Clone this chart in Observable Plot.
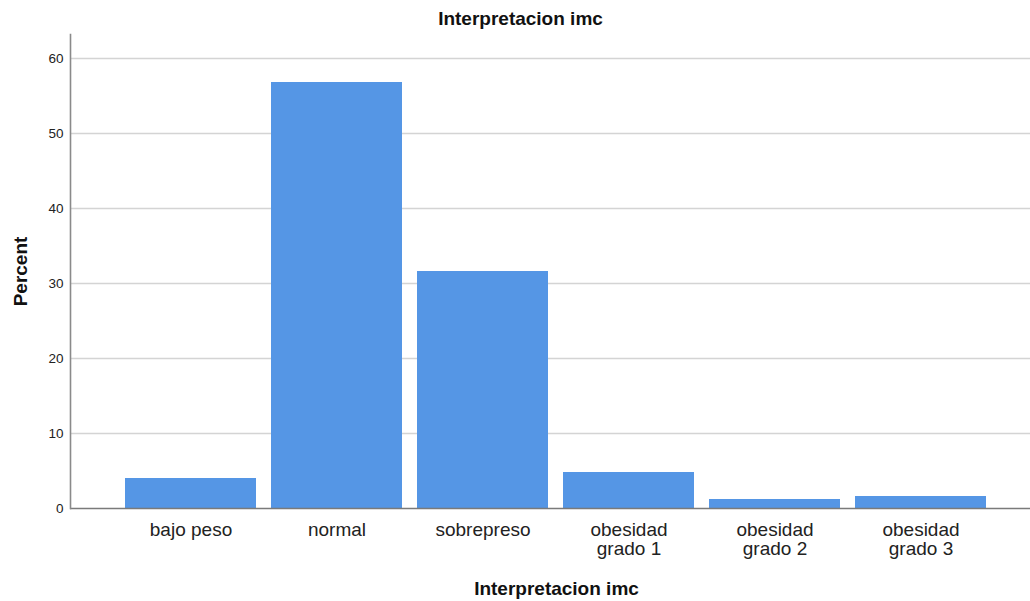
<!DOCTYPE html>
<html>
<head>
<meta charset="utf-8">
<script src="https://cdn.jsdelivr.net/npm/d3@7"></script>
<script src="https://cdn.jsdelivr.net/npm/@observablehq/plot@0.6"></script>
<style>
  html, body { margin: 0; padding: 0; background: #fff; }
  #chart { width: 1030px; height: 601px; }
</style>
</head>
<body>
<div id="chart"></div>
<script>
const categories = ["bajo peso", "normal", "sobrepreso", "obesidad grado 1", "obesidad grado 2", "obesidad grado 3"];
const tickLabels = ["bajo peso", "normal", "sobrepreso", "obesidad\ngrado 1", "obesidad\ngrado 2", "obesidad\ngrado 3"];
const percents = [4.0, 56.8, 31.6, 4.8, 1.2, 1.6];
const yTicks = [0, 10, 20, 30, 40, 50, 60];
const gridTicks = [10, 20, 30, 40, 50, 60];
const title = "Interpretacion imc";
const xTitle = "Interpretacion imc";
const yTitle = "Percent";

const data = categories.map((c, i) => ({category: c, percent: percents[i]}));
const labelOf = new Map(categories.map((c, i) => [c, tickLabels[i]]));

const font = "'Liberation Sans', Arial, sans-serif";

const chart = Plot.plot({
  width: 1030,
  height: 601,
  marginTop: 34,
  marginBottom: 93,
  marginLeft: 70,
  marginRight: 0,
  style: {fontFamily: font, background: "#fff"},
  x: {domain: categories, padding: 0.103, insetLeft: 37, insetRight: 27, label: null},
  y: {domain: [0, 63.2], label: null},
  marks: [
    Plot.ruleY(gridTicks, {stroke: "#d4d4d4", strokeWidth: 1.6}),
    Plot.barY(data, {x: "category", y: "percent", fill: "#5596e5"}),
    Plot.ruleY([0], {stroke: "#7a7a7a", strokeWidth: 1.6}),
    Plot.frame({anchor: "left", stroke: "#8a8a8a", strokeWidth: 1.6}),
    Plot.axisY({ticks: yTicks, tickSize: 0, tickPadding: 7, fontSize: 13.5, fill: "#222", label: null}),
    Plot.axisX({tickSize: 0, tickPadding: 14, fontSize: 19, lineHeight: 1.0, fill: "#222", tickFormat: d => labelOf.get(d), label: null}),
    Plot.text([title], {frameAnchor: "top", lineAnchor: "middle", dx: -30, dy: -16, fontSize: 19, fontWeight: "bold", fill: "#111"}),
    Plot.text([xTitle], {frameAnchor: "bottom", lineAnchor: "middle", dx: 6, dy: 80, fontSize: 19, fontWeight: "bold", fill: "#111"}),
    Plot.text([yTitle], {frameAnchor: "left", textAnchor: "middle", lineAnchor: "middle", dx: -50, rotate: -90, fontSize: 19, fontWeight: "bold", fill: "#111"})
  ]
});
document.getElementById("chart").appendChild(chart);
</script>
</body>
</html>
